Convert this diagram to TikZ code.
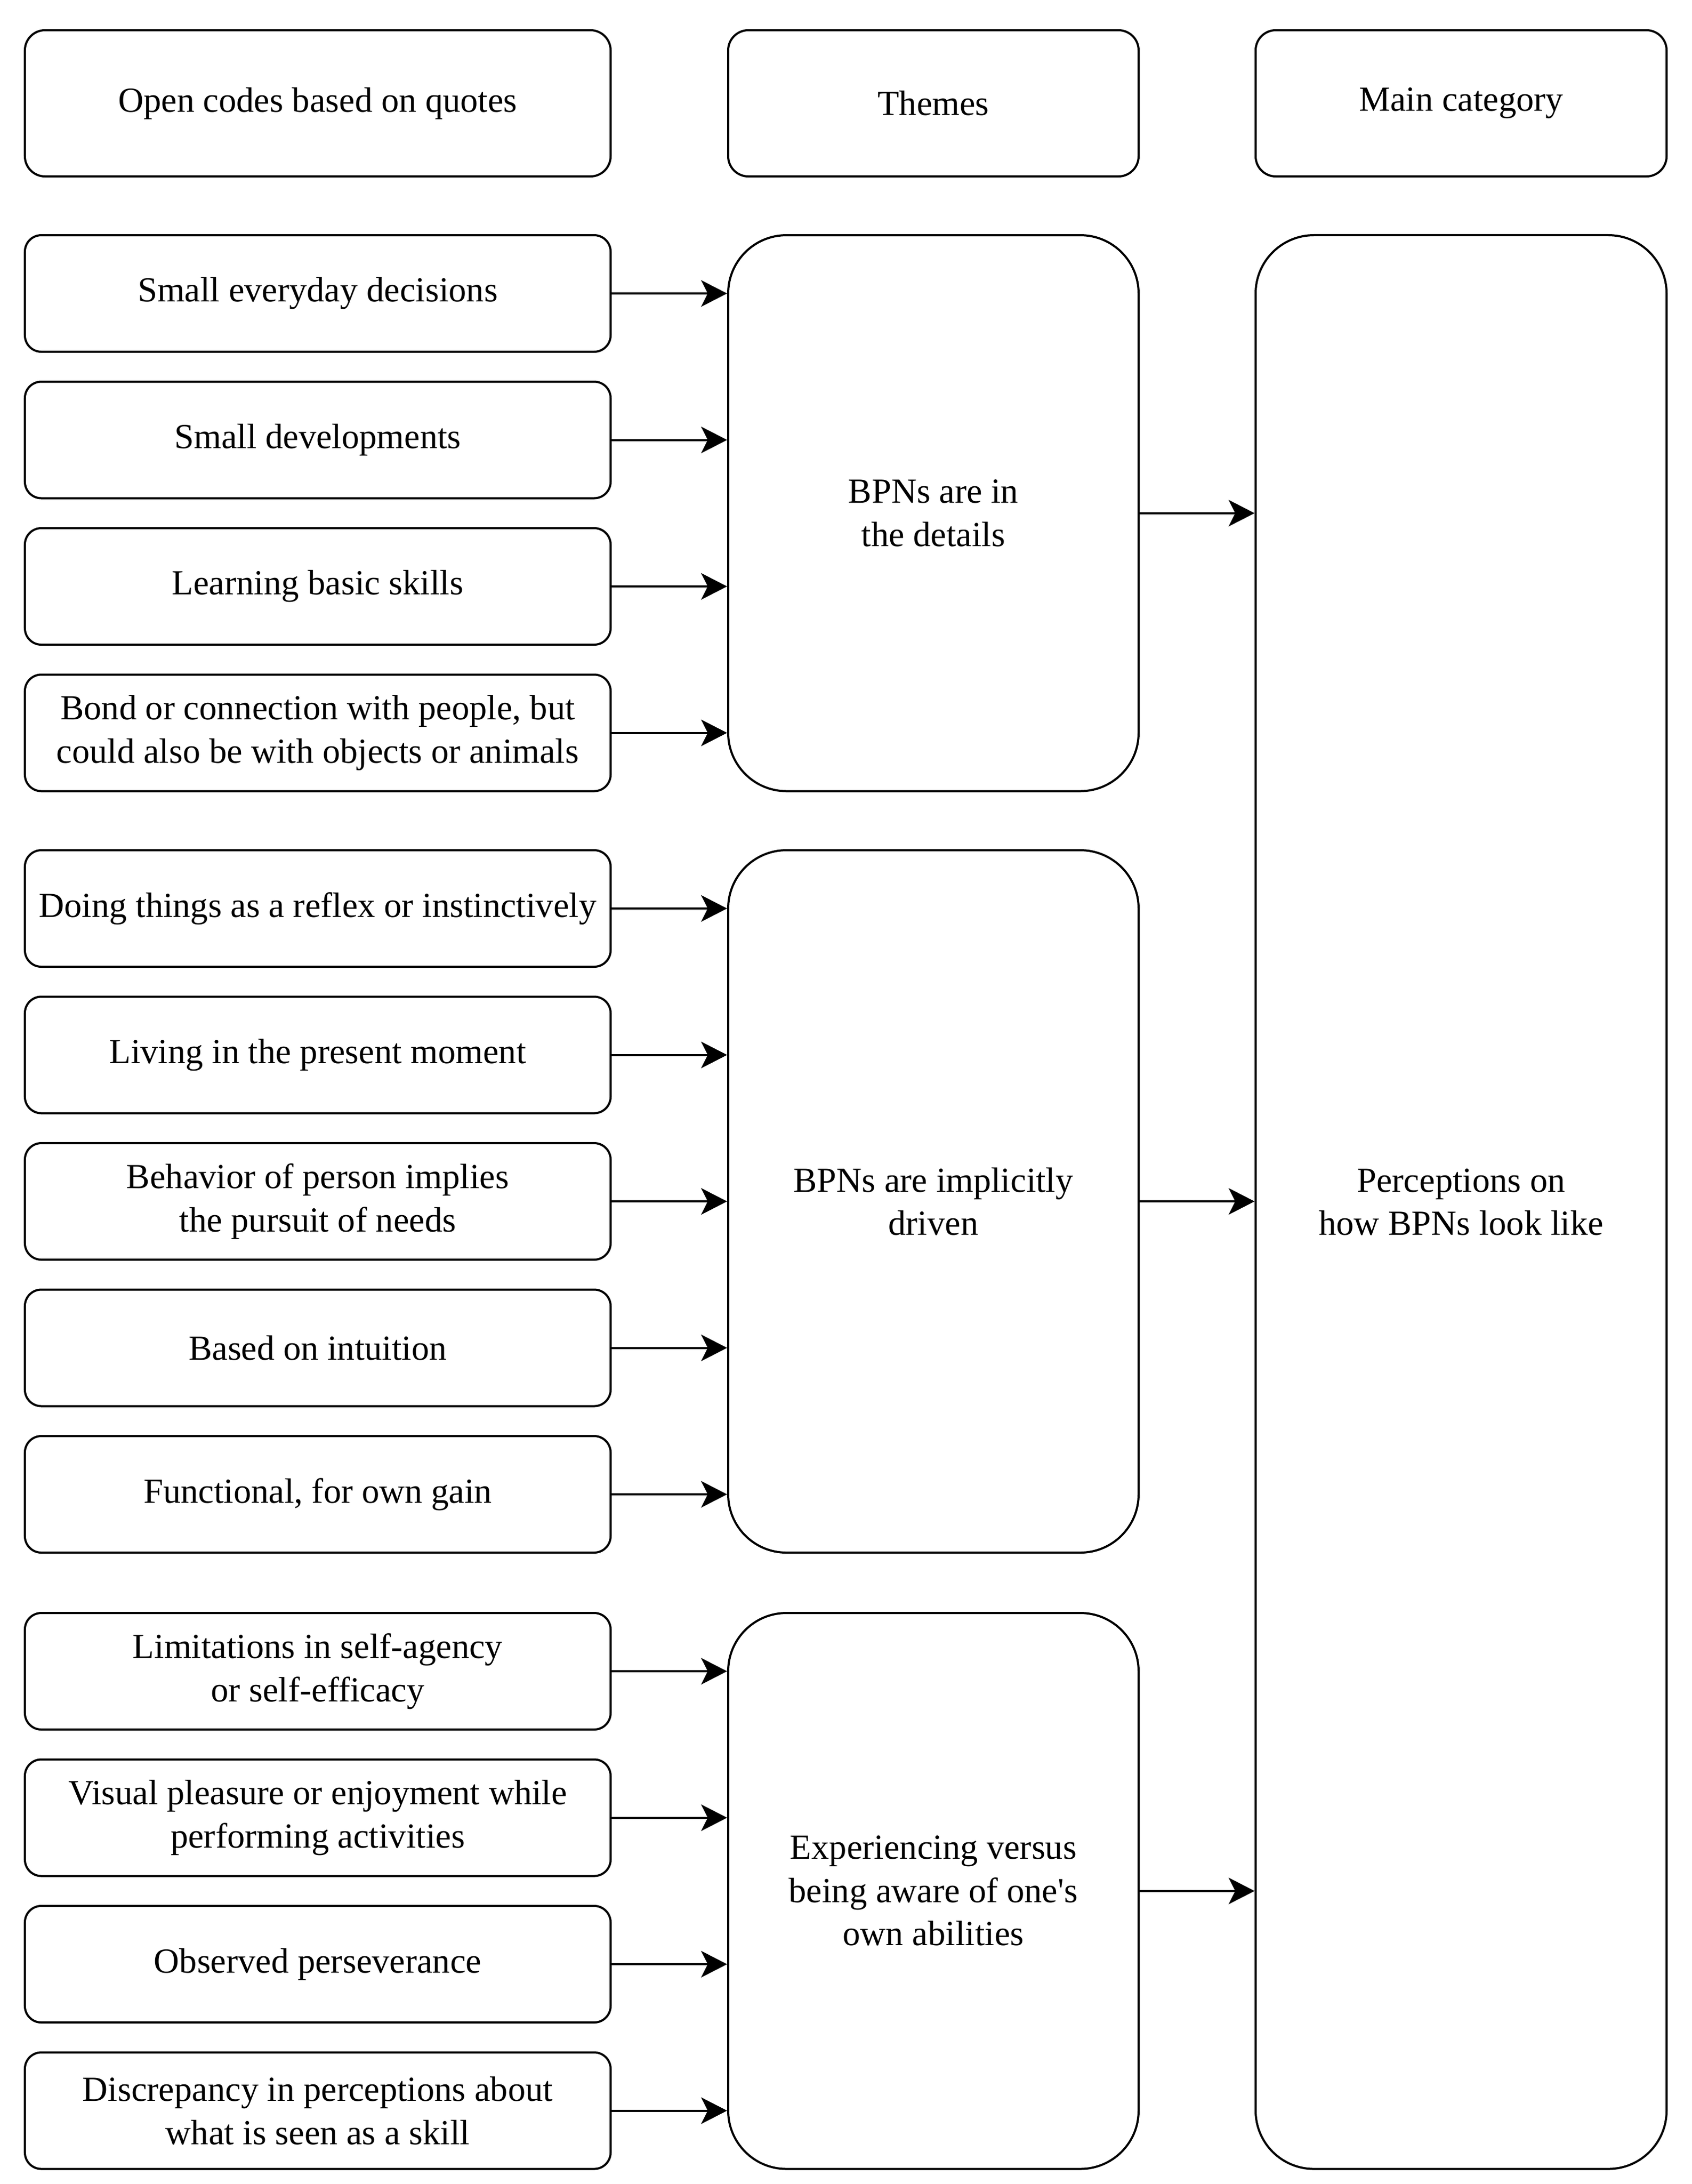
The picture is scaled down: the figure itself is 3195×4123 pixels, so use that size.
\documentclass[tikz,border=0pt]{standalone}
\usepackage{fontspec}
\setmainfont{Liberation Serif}
\usetikzlibrary{arrows.meta}
\begin{document}
\begin{tikzpicture}[x=0.2pt,y=-0.2pt,
  every node/.style={font=\fontsize{13.3pt}{16.3pt}\selectfont, align=center, inner sep=0pt, line width=0.8pt},
  headbox/.style={draw, rounded corners=7.6pt, minimum height=55.2pt},
  codebox/.style={draw, rounded corners=6.2pt, minimum width=221.2pt, minimum height=44pt},
  themebox/.style={draw, rounded corners=22pt, minimum width=155pt},
  mainbox/.style={draw, rounded corners=22pt, minimum width=155.2pt, minimum height=730.1pt},
  arr/.style={line width=0.8pt, -{Stealth[length=9.8pt, width=10pt, inset=2.5pt]}}
]
\useasboundingbox (0,0) rectangle (3195,4123);

% headers
\node[headbox, minimum width=221.2pt] (h1) at (600,195) {Open codes based on quotes};
\node[headbox, minimum width=155pt] (h2) at (1762.5,195) {Themes};
\node[headbox, minimum width=155.2pt] (h3) at (2759,195) {Main category};

% themes and main category
\node[themebox, minimum height=209.9pt] (t1) at (1762.5,968.75) {BPNs are in\\the details};
\node[themebox, minimum height=265.2pt] (t2) at (1762.5,2268) {BPNs are implicitly\\driven};
\node[themebox, minimum height=209.9pt] (t3) at (1762.5,3569.75) {Experiencing versus\\being aware of one\textquotesingle s\\own abilities};
\node[mainbox] (m) at (2759,2269.25) {Perceptions on\\how BPNs look like};

% open codes
\node[codebox] (c1) at (600,554) {Small everyday decisions};
\node[codebox] (c2) at (600,830.5) {Small developments};
\node[codebox] (c3) at (600,1107) {Learning basic skills};
\node[codebox] (c4) at (600,1383.5) {Bond or connection with people, but\\could also be with objects or animals};
\node[codebox] (c5) at (600,1715) {Doing things as a reflex or instinctively};
\node[codebox] (c6) at (600,1991.5) {Living in the present moment};
\node[codebox] (c7) at (600,2268) {Behavior of person implies\\the pursuit of needs};
\node[codebox] (c8) at (600,2544.5) {Based on intuition};
\node[codebox] (c9) at (600,2821) {Functional, for own gain};
\node[codebox] (c10) at (600,3155) {Limitations in self-agency\\or self-efficacy};
\node[codebox] (c11) at (600,3431.5) {Visual pleasure or enjoyment while\\performing activities};
\node[codebox] (c12) at (600,3708) {Observed perseverance};
\node[codebox] (c13) at (600,3984.5) {Discrepancy in perceptions about\\what is seen as a skill};

% connectors
\foreach \c in {c1,c2,c3,c4} \draw[arr] (\c.east) -- (\c.east -| t1.west);
\foreach \c in {c5,c6,c7,c8,c9} \draw[arr] (\c.east) -- (\c.east -| t2.west);
\foreach \c in {c10,c11,c12,c13} \draw[arr] (\c.east) -- (\c.east -| t3.west);
\foreach \t in {t1,t2,t3} \draw[arr] (\t.east) -- (\t.east -| m.west);
\end{tikzpicture}
\end{document}
